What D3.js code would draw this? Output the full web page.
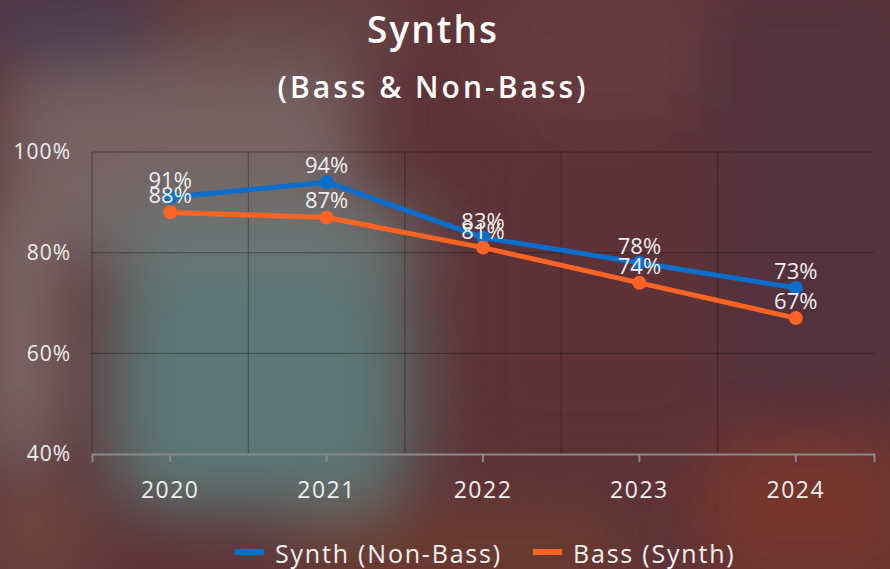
<!DOCTYPE html>
<html>
<head>
<meta charset="utf-8">
<script src="https://cdn.jsdelivr.net/npm/d3@7"></script>
<style>
  html, body { margin: 0; padding: 0; background: #5c3339; }
  svg { display: block; }
</style>
</head>
<body>
<div id="chart"></div>
<script>
// data
var years = ["2020", "2021", "2022", "2023", "2024"];
var synthNonBass = [91, 94, 83, 78, 73];
var bassSynth = [88, 87, 81, 74, 67];
var yTicks = [40, 60, 80, 100];
var seriesNames = ["Synth (Non-Bass)", "Bass (Synth)"];
var seriesColors = ["#0a6fcc", "#ff6424"];

var W = 890, H = 569;
var margin = { top: 152, right: 16, bottom: 115, left: 92 };

var svg = d3.select("#chart").append("svg")
  .attr("width", W)
  .attr("height", H);

// blurry background, just a bunch of blobs smeared out
var defs = svg.append("defs");
defs.append("filter").attr("id", "blur")
  .attr("x", "-50%").attr("y", "-50%").attr("width", "200%").attr("height", "200%")
  .append("feGaussianBlur").attr("stdDeviation", 32);

svg.append("rect").attr("width", W).attr("height", H).attr("fill", "#5d3338");

var bg = svg.append("g").attr("filter", "url(#blur)");
var blobs = [
  { x: 480, y: -20, w: 420, h: 140, c: "#663a3c" },
  { x: 700, y: -20, w: 220, h: 440, c: "#52303d" },
  { x: 460, y: 120, w: 260, h: 340, c: "#5c3138" },
  { x: 0, y: 60, w: 360, h: 190, c: "#766264" },
  { x: -30, y: -30, w: 190, h: 100, c: "#4b3a4e" },
  { x: 170, y: -20, w: 240, h: 90, c: "#674646" },
  { x: -20, y: 200, w: 80, h: 270, c: "#7c6a6a" },
  { x: 100, y: 200, w: 320, h: 90, c: "#6b7473" },
  { x: 110, y: 270, w: 300, h: 240, c: "#5c7775" },
  { x: -20, y: 480, w: 110, h: 110, c: "#704840" },
  { x: 290, y: 510, w: 340, h: 80, c: "#6c3a2d" },
  { x: 700, y: 430, w: 220, h: 160, c: "#75352b" }
];
bg.selectAll("rect")
  .data(blobs)
  .join("rect")
  .attr("x", d => d.x).attr("y", d => d.y)
  .attr("width", d => d.w).attr("height", d => d.h)
  .attr("rx", 60)
  .attr("fill", d => d.c);

var font = "'Open Sans', 'DejaVu Sans', sans-serif";

// titles
svg.append("text")
  .attr("x", 433).attr("y", 43)
  .attr("text-anchor", "middle")
  .attr("fill", "#fff")
  .attr("font-family", font).attr("font-weight", 600).attr("font-size", 37)
  .attr("letter-spacing", 2)
  .text("Synths");
svg.append("text")
  .attr("x", 433).attr("y", 98)
  .attr("text-anchor", "middle")
  .attr("fill", "#fff")
  .attr("font-family", font).attr("font-weight", 600).attr("font-size", 30)
  .attr("letter-spacing", 3)
  .text("(Bass & Non-Bass)");

var x = d3.scaleBand()
  .domain(years)
  .range([margin.left, W - margin.right])
  .padding(0);

var y = d3.scaleLinear()
  .domain([40, 100])
  .range([H - margin.bottom, margin.top]);

var g = svg.append("g");

// horizontal grid
g.selectAll("line.hgrid")
  .data(yTicks.slice(1))
  .join("line")
  .attr("class", "hgrid")
  .attr("x1", margin.left).attr("x2", W - margin.right)
  .attr("y1", d => y(d)).attr("y2", d => y(d))
  .attr("stroke", "rgba(0,0,0,0.28)").attr("stroke-width", 1.2);

// vertical grid at band edges
var edges = years.map(d => x(d));
g.selectAll("line.vgrid")
  .data(edges)
  .join("line")
  .attr("class", "vgrid")
  .attr("x1", d => d).attr("x2", d => d)
  .attr("y1", y(100)).attr("y2", y(40))
  .attr("stroke", "rgba(0,0,0,0.28)").attr("stroke-width", 1.2);

// y labels
g.selectAll("text.ylab")
  .data(yTicks)
  .join("text")
  .attr("class", "ylab")
  .attr("x", 71).attr("y", d => y(d))
  .attr("dy", "0.35em")
  .attr("text-anchor", "end")
  .attr("fill", "#eeeeee")
  .attr("font-family", font).attr("font-size", 21)
  .attr("letter-spacing", 1)
  .text(d => d + "%");

// x axis
var xAxis = g.append("g")
  .attr("transform", "translate(0," + y(40) + ")")
  .call(d3.axisBottom(x).tickSize(8).tickPadding(20));
xAxis.select(".domain").attr("stroke", "#8a8a8a").attr("stroke-width", 2);
xAxis.selectAll(".tick line").attr("stroke", "#8a8a8a").attr("stroke-width", 2);
xAxis.selectAll(".tick text")
  .attr("fill", "#eeeeee")
  .attr("font-family", font).attr("font-size", 23)
  .attr("letter-spacing", 1.5);

var cx = d => x(d) + x.bandwidth() / 2;
var series = [synthNonBass, bassSynth];

var line = d3.line()
  .x((d, i) => cx(years[i]))
  .y(d => y(d));

series.forEach(function(vals, si) {
  g.append("path")
    .datum(vals)
    .attr("fill", "none")
    .attr("stroke", seriesColors[si])
    .attr("stroke-width", 5)
    .attr("stroke-linejoin", "round")
    .attr("d", line);
  g.selectAll("circle.s" + si)
    .data(vals)
    .join("circle")
    .attr("class", "s" + si)
    .attr("cx", (d, i) => cx(years[i]))
    .attr("cy", d => y(d))
    .attr("r", 7)
    .attr("fill", seriesColors[si]);
});

// data labels on top
series.forEach(function(vals, si) {
  g.selectAll("text.lab" + si)
    .data(vals)
    .join("text")
    .attr("class", "lab" + si)
    .attr("x", (d, i) => cx(years[i]))
    .attr("y", d => y(d) - 9)
    .attr("text-anchor", "middle")
    .attr("fill", "#f0f0f0")
    .attr("font-family", font).attr("font-size", 22)
    .text(d => d + "%");
});

// legend
var legend = svg.append("g");
var legendItems = [
  { name: seriesNames[0], color: seriesColors[0], x: 235 },
  { name: seriesNames[1], color: seriesColors[1], x: 533 }
];
legendItems.forEach(function(it) {
  legend.append("rect")
    .attr("x", it.x).attr("y", 549)
    .attr("width", 29).attr("height", 6)
    .attr("fill", it.color);
  legend.append("text")
    .attr("x", it.x + 40).attr("y", 563)
    .attr("fill", "#f0f0f0")
    .attr("font-family", font).attr("font-size", 25)
    .attr("letter-spacing", 1.8)
    .text(it.name);
});
</script>
</body>
</html>
